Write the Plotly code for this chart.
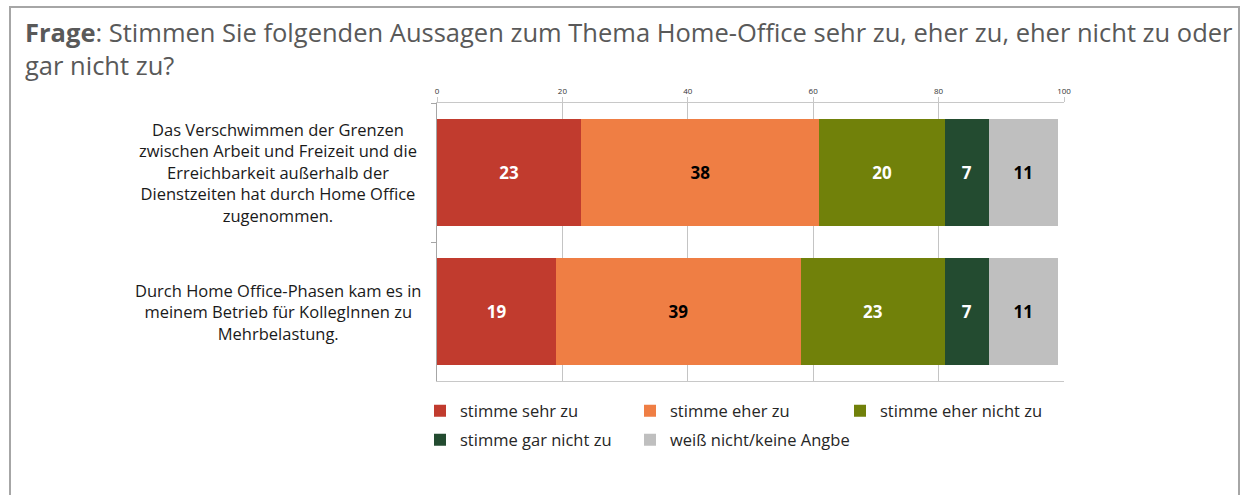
import plotly.graph_objects as go

W, H = 1243, 495

categories = [
    "Das Verschwimmen der Grenzen<br>zwischen Arbeit und Freizeit und die<br>Erreichbarkeit außerhalb der<br>Dienstzeiten hat durch Home Office<br>zugenommen.",
    "Durch Home Office-Phasen kam es in<br>meinem Betrieb für KollegInnen zu<br>Mehrbelastung.",
]
series_names = [
    "stimme sehr zu",
    "stimme eher zu",
    "stimme eher nicht zu",
    "stimme gar nicht zu",
    "weiß nicht/keine Angbe",
]
sehr_zu = [23, 19]
eher_zu = [38, 39]
eher_nicht_zu = [20, 23]
gar_nicht_zu = [7, 7]
weiss_nicht = [11, 11]
series_values = [sehr_zu, eher_zu, eher_nicht_zu, gar_nicht_zu, weiss_nicht]
x_ticks = [0, 20, 40, 60, 80, 100]

colors = ["#C13B2E", "#EF7E44", "#71810A", "#234B30", "#BFBFBF"]
label_colors = ["white", "black", "white", "white", "black"]
legend_of = ["legend", "legend", "legend", "legend2", "legend2"]
legend_w = [165, 165, 200, 165, 200]

FONT = "Open Sans"

fig = go.Figure()
for name, vals, col, lc, lg, lw in zip(series_names, series_values, colors, label_colors, legend_of, legend_w):
    fig.add_trace(go.Bar(
        name=name, y=categories, x=vals, orientation="h",
        marker=dict(color=col, line=dict(width=0)),
        text=vals, texttemplate="<b>%{x}</b>", textposition="inside",
        insidetextanchor="middle",
        textfont=dict(family=FONT, size=17, color=lc),
        legend=lg, legendwidth=lw, hoverinfo="skip",
    ))

def px(x):
    return x / W

def py(y):
    return 1 - y / H

annotations = []
for c in categories:
    annotations.append(dict(
        x=px(278), xref="paper", y=c, yref="y", text=c, showarrow=False,
        xanchor="center", yanchor="middle", align="center",
        font=dict(family=FONT, size=16.5, color="#1a1a1a"),
    ))
annotations.append(dict(
    x=px(23), xref="paper", y=py(13), yref="paper", xanchor="left", yanchor="top",
    align="left", showarrow=False,
    text="<b>Frage</b>: Stimmen Sie folgenden Aussagen zum Thema Home-Office sehr zu, eher zu, eher nicht zu oder<br>gar nicht zu?",
    font=dict(family=FONT, size=25.5, color="#595959"),
))

fig.update_layout(
    width=W, height=H, autosize=False,
    margin=dict(l=0, r=0, t=0, b=0, autoexpand=False),
    paper_bgcolor="white", plot_bgcolor="white",
    barmode="stack", bargap=0.237,
    showlegend=True,
    xaxis=dict(
        domain=[px(437), px(1064)], range=[0, 100], side="top",
        tickvals=x_ticks, ticks="outside", ticklen=5, tickcolor="#c8c8c8",
        tickfont=dict(family=FONT, size=8, color="#333333"),
        showline=True, linecolor="#c8c8c8", linewidth=1, mirror=True,
        showgrid=True, gridcolor="#c4c4c4", gridwidth=1, zeroline=False,
        fixedrange=True,
    ),
    yaxis=dict(
        domain=[py(381), py(103)], type="category", autorange="reversed",
        showticklabels=False, ticks="outside", tickson="boundaries",
        ticklen=5, tickcolor="#a6a6a6",
        showline=True, linecolor="#a6a6a6", linewidth=1,
        showgrid=False, zeroline=False, fixedrange=True,
    ),
    legend=dict(
        orientation="h", x=px(420), xanchor="left", y=py(411), yanchor="middle",
        entrywidth=165, font=dict(family=FONT, size=16.5, color="#262626"),
        bgcolor="rgba(0,0,0,0)", traceorder="normal",
    ),
    legend2=dict(
        orientation="h", x=px(420), xanchor="left", y=py(440), yanchor="middle",
        entrywidth=165, font=dict(family=FONT, size=16.5, color="#262626"),
        bgcolor="rgba(0,0,0,0)", traceorder="normal",
    ),
    annotations=annotations,
    shapes=[dict(
        type="rect", xref="paper", yref="paper",
        x0=px(10), x1=px(1239), y0=py(520), y1=py(7),
        line=dict(color="#a6a6a6", width=2), fillcolor="rgba(0,0,0,0)",
    )],
)

fig.write_html(
    "out.html",
    config={"displayModeBar": False, "responsive": False},
    post_script=(
        "document.documentElement.style.overflow='hidden';"
        "document.body.style.margin='0';document.body.style.overflow='hidden';"
    ),
)
